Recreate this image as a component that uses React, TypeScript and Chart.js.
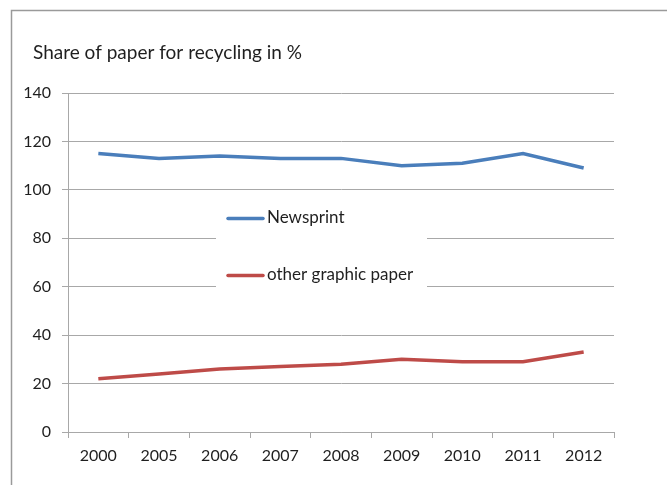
import React, { useEffect, useRef } from "react";
import { Chart, registerables } from "chart.js";

Chart.register(...registerables);

const years = ["2000", "2005", "2006", "2007", "2008", "2009", "2010", "2011", "2012"];
const newsprint = [115, 113, 114, 113, 113, 110, 111, 115, 109];
const otherGraphicPaper = [22, 24, 26, 27, 28, 30, 29, 29, 33];
const seriesNames = ["Newsprint", "other graphic paper"];
const titleText = "Share of paper for recycling in %";

const FONT = "Lato, 'Liberation Sans', sans-serif";
const GRID = "#a8a8a8";
const TEXT = "#1f1f1f";

// Frame lines along the top and left edge, plus the title
const framePlugin = {
  id: "frame",
  beforeDraw(chart: Chart) {
    const { ctx, width, height } = chart;
    ctx.save();
    ctx.fillStyle = "#ffffff";
    ctx.fillRect(0, 0, width, height);
    ctx.strokeStyle = "#9a9a9a";
    ctx.lineWidth = 1.5;
    ctx.beginPath();
    ctx.moveTo(11.5, height);
    ctx.lineTo(11.5, 10.5);
    ctx.lineTo(width, 10.5);
    ctx.stroke();
    ctx.fillStyle = TEXT;
    ctx.font = `19px ${FONT}`;
    ctx.textBaseline = "alphabetic";
    ctx.textAlign = "left";
    ctx.fillText(titleText, 33, 59);
    ctx.restore();
  },
};

// Legend box sitting inside the plot area
const insideLegendPlugin = {
  id: "insideLegend",
  afterDraw(chart: Chart) {
    const { ctx } = chart;
    ctx.save();
    ctx.fillStyle = "#ffffff";
    ctx.fillRect(216, 197, 211, 96);
    const rows = [218, 275];
    chart.data.datasets.forEach((ds: any, i: number) => {
      const y = rows[i];
      ctx.strokeStyle = ds.borderColor;
      ctx.lineWidth = 3.5;
      ctx.lineCap = "round";
      ctx.beginPath();
      ctx.moveTo(228, y + 0.5);
      ctx.lineTo(263, y + 0.5);
      ctx.stroke();
      ctx.fillStyle = TEXT;
      ctx.font = `17px ${FONT}`;
      ctx.textBaseline = "middle";
      ctx.textAlign = "left";
      ctx.fillText(ds.label, 267, y);
    });
    ctx.restore();
  },
};

export default function App() {
  const canvasRef = useRef<HTMLCanvasElement | null>(null);

  useEffect(() => {
    if (!canvasRef.current) return;
    const chart = new Chart(canvasRef.current, {
      type: "line",
      data: {
        labels: years,
        datasets: [
          {
            label: seriesNames[0],
            data: newsprint,
            borderColor: "#4a7ebb",
            backgroundColor: "#4a7ebb",
            borderWidth: 3.5,
            pointRadius: 0,
            tension: 0,
          },
          {
            label: seriesNames[1],
            data: otherGraphicPaper,
            borderColor: "#be4b48",
            backgroundColor: "#be4b48",
            borderWidth: 3.5,
            pointRadius: 0,
            tension: 0,
          },
        ],
      },
      options: {
        responsive: false,
        animation: false,
        layout: { padding: { left: 0, top: 93, right: 53, bottom: 0 } },
        plugins: {
          legend: { display: false },
          title: { display: false },
          tooltip: { enabled: false },
        },
        scales: {
          x: {
            type: "category",
            offset: true,
            grid: {
              offset: true,
              drawOnChartArea: false,
              drawTicks: true,
              tickLength: 6,
              color: GRID,
            },
            border: { color: GRID, width: 1 },
            ticks: {
              color: TEXT,
              font: { family: FONT, size: 16 },
              padding: 8,
              maxRotation: 0,
              autoSkip: false,
            },
            afterFit(scale: any) {
              scale.height = 53;
            },
          },
          y: {
            min: 0,
            max: 140,
            grid: { color: GRID, tickLength: 6 },
            border: { color: GRID, width: 1 },
            ticks: {
              stepSize: 20,
              color: TEXT,
              font: { family: FONT, size: 16 },
              padding: 11,
            },
            afterFit(scale: any) {
              scale.width = 68;
            },
          },
        },
      },
      plugins: [framePlugin, insideLegendPlugin],
    });
    return () => chart.destroy();
  }, []);

  return (
    <div style={{ position: "fixed", left: 0, top: 0, width: 667, height: 485, background: "#fff" }}>
      <canvas ref={canvasRef} width={667} height={485} />
    </div>
  );
}
